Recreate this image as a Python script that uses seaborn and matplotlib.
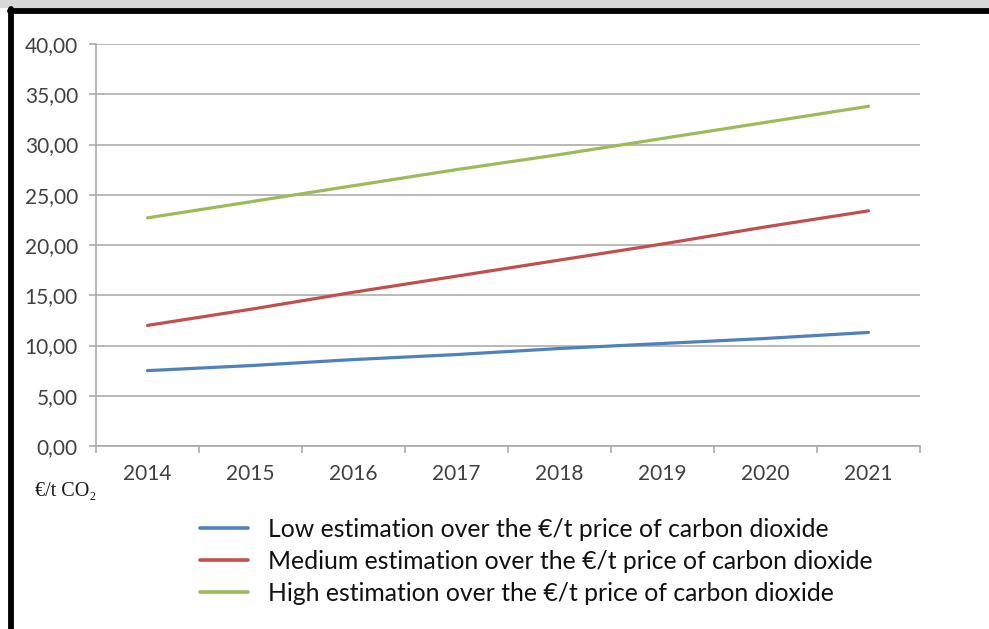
import matplotlib
matplotlib.use("Agg")
import matplotlib.pyplot as plt
from matplotlib.lines import Line2D
from matplotlib.ticker import FuncFormatter, FixedLocator
import seaborn as sns
import pandas as pd

years = [2014, 2015, 2016, 2017, 2018, 2019, 2020, 2021]
low = [7.5, 8.0, 8.6, 9.1, 9.7, 10.2, 10.7, 11.3]
medium = [12.0, 13.6, 15.3, 16.9, 18.5, 20.1, 21.8, 23.4]
high = [22.7, 24.3, 25.9, 27.5, 29.0, 30.6, 32.2, 33.8]
series_names = [
    "Low estimation over the €/t price of carbon dioxide",
    "Medium estimation over the €/t price of carbon dioxide",
    "High estimation over the €/t price of carbon dioxide",
]
colors = ["#4F81BD", "#C0504D", "#9BBB59"]
y_ticks = [0, 5, 10, 15, 20, 25, 30, 35, 40]
unit_label = "€/t CO₂"

rows = []
for name, vals in zip(series_names, [low, medium, high]):
    for yr, v in zip(years, vals):
        rows.append({"year": yr, "value": v, "series": name})
df = pd.DataFrame(rows)

sns.set_theme(style="white")
plt.rcParams["font.family"] = ["Lato", "DejaVu Sans"]

fig = plt.figure(figsize=(9.89, 6.29), dpi=100)
fig.patch.set_facecolor("white")
ax = fig.add_axes([96 / 989, 1 - 446 / 629, 824 / 989, 402 / 629])

sns.lineplot(data=df, x="year", y="value", hue="series", palette=colors,
             linewidth=2.3, ax=ax, legend=False)

ax.set_xlim(years[0] - 0.5, years[-1] + 0.5)
ax.set_ylim(0, 40)
ax.set_xlabel("")
ax.set_ylabel("")

grid_c = "#A6A6A6"
ax.yaxis.set_major_locator(FixedLocator(y_ticks))
ax.yaxis.set_major_formatter(FuncFormatter(lambda v, p: f"{v:.2f}".replace(".", ",")))
ax.grid(axis="y", color=grid_c, linewidth=1.1)
ax.set_axisbelow(True)

ax.set_xticks(years)
ax.set_xticklabels([str(y) for y in years])
ax.set_xticks([y - 0.5 for y in years] + [years[-1] + 0.5], minor=True)

for s in ["top", "right"]:
    ax.spines[s].set_visible(False)
for s in ["left", "bottom"]:
    ax.spines[s].set_color(grid_c)
    ax.spines[s].set_linewidth(1.1)

ax.tick_params(axis="y", which="major", length=5, color=grid_c, width=1.1,
               pad=8, labelsize=15, labelcolor="#404040", left=True)
ax.tick_params(axis="x", which="major", length=0, pad=13, labelsize=15,
               labelcolor="#404040")
ax.tick_params(axis="x", which="minor", length=5, color=grid_c, width=1.1,
               bottom=True)

fig.text(35 / 989, 1 - 492 / 629, unit_label, fontsize=14.5,
         family=["Liberation Serif", "DejaVu Serif"], va="center", ha="left",
         color="#1a1a1a")

handles = [Line2D([0], [0], color=c, linewidth=2.6) for c in colors]
leg = fig.legend(handles, series_names, loc="upper left",
                 bbox_to_anchor=(190 / 989, 1 - 508 / 629), frameon=False,
                 fontsize=17.8, handlelength=1.95, handletextpad=0.8,
                 labelspacing=0.36, borderaxespad=0)
for t in leg.get_texts():
    t.set_color("#111111")

# frame: shadow band on top and black border top/left
fig.add_artist(Line2D([0, 1], [1 - 4 / 629, 1 - 4 / 629], color="#D8D8D8",
                      linewidth=6, transform=fig.transFigure))
fig.add_artist(Line2D([10 / 989, 1], [1 - 10.5 / 629, 1 - 10.5 / 629], color="black",
                      linewidth=4.2, transform=fig.transFigure))
fig.add_artist(Line2D([10.5 / 989, 10.5 / 989], [0, 1 - 9 / 629], color="black",
                      linewidth=4.2, transform=fig.transFigure))

fig.savefig("out.png", dpi=100)
